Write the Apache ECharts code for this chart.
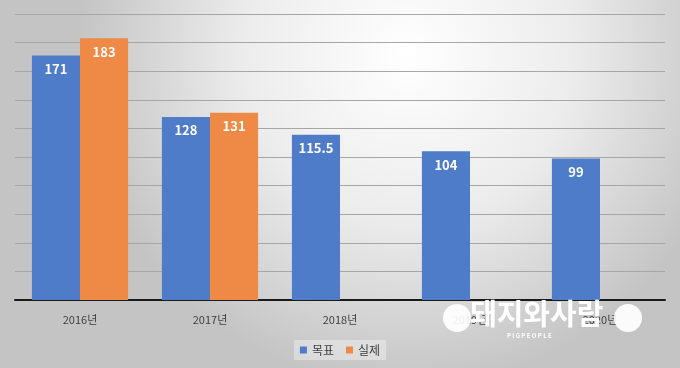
<!DOCTYPE html>
<html><head><meta charset="utf-8">
<script src="https://cdn.jsdelivr.net/npm/echarts@6/dist/echarts.min.js"></script>
<style>html,body{margin:0;padding:0}#c{width:680px;height:368px}</style>
</head><body><div id="c"></div>
<script>
const categories = ['2016년','2017년','2018년','2019년','2020년'];
const targetValues = [171, 128, 115.5, 104, 99];
const actualValues = [183, 131, null, null, null];
const seriesNames = ['목표','실제'];

const chart = echarts.init(document.getElementById('c'));
const font = '"Noto Sans CJK KR","Noto Sans",sans-serif';
const label = {show:true, position:'insideTop', distance:7, color:'#fff', fontWeight:'bold', fontSize:13, fontFamily:font};
chart.setOption({
  animation:false,
  backgroundColor:{type:'radial', x:0.6, y:0.15, r:0.9, colorStops:[
    {offset:0, color:'#ffffff'},{offset:0.5, color:'#ececec'},{offset:1, color:'#c4c4c4'}]},
  grid:{left:15, right:15, top:14, bottom:68},
  legend:{data:seriesNames, bottom:8, left:'center', itemWidth:7, itemHeight:7, itemGap:12,
    icon:'rect', backgroundColor:'rgba(255,255,255,0.35)', padding:[4,6],
    textStyle:{fontSize:12, color:'#404040', fontFamily:font}},
  xAxis:{type:'category', data:categories,
    axisLine:{lineStyle:{color:'#1a1a1a', width:2}}, axisTick:{show:false},
    axisLabel:{color:'#404040', fontSize:11, margin:14, fontFamily:font}},
  yAxis:{type:'value', min:0, max:200, interval:20, axisLabel:{show:false},
    splitLine:{lineStyle:{color:'#a6a6a6', width:1}}},
  series:[
    {name:seriesNames[0], type:'bar', data:targetValues, barGap:'0%', barCategoryGap:'26%',
      itemStyle:{color:'#4f7cc8'}, label:label},
    {name:seriesNames[1], type:'bar', data:actualValues,
      itemStyle:{color:'#ee8a45'}, label:label}
  ],
  graphic:[
    {type:'circle', shape:{cx:457, cy:318, r:14}, style:{fill:'rgba(255,255,255,0.92)'}, z:100},
    {type:'circle', shape:{cx:628, cy:318, r:14}, style:{fill:'rgba(255,255,255,0.92)'}, z:100},
    {type:'text', left:470, top:299, z:101, style:{text:'돼지와사람', fontSize:29, fontWeight:'bold',
      fontFamily:font, fill:'#ffffff', shadowColor:'rgba(0,0,0,0.35)', shadowBlur:3, shadowOffsetX:1, shadowOffsetY:1}},
    {type:'text', left:507, top:333, z:101, style:{text:'P I G P E O P L E', fontSize:6, fontWeight:'bold',
      fontFamily:font, fill:'#ffffff'}}
  ]
});
</script></body></html>
